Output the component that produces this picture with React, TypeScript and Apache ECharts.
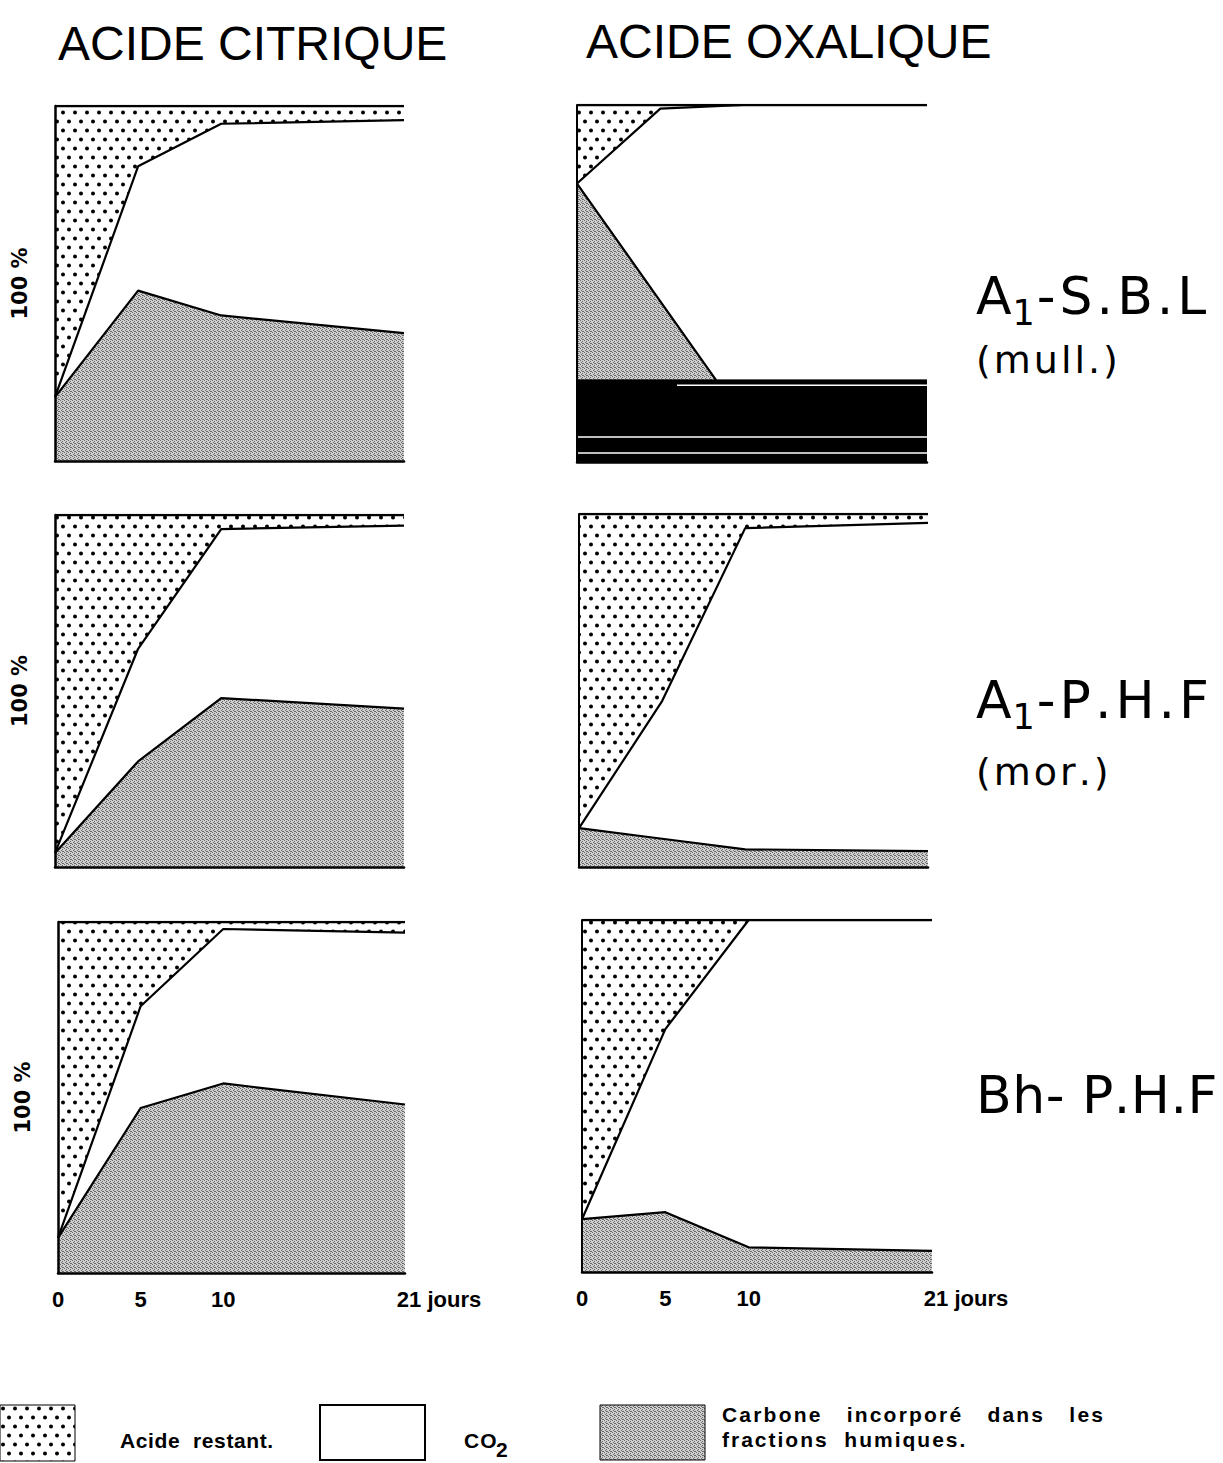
import React, { useEffect, useRef } from 'react';
import * as echarts from 'echarts';

// ---- Data (percent of added carbon) ----
const days = [0, 5, 10, 21];
const xTickValues = [0, 5, 10, 21];
const xTickLabels = ['0', '5', '10', '21 jours'];

const columnTitles = ['ACIDE CITRIQUE', 'ACIDE OXALIQUE'];
const rowSubLabels = ['(mull.)', '(mor.)', ''];

const citriqueSBL_carbone = [18, 48, 41, 36];
const citriqueSBL_co2 = [0, 35, 54, 60];
const citriqueSBL_acide = [82, 17, 5, 4];

const oxaliqueSBL_carbone = [78, 45, 12, 8];
const oxaliqueSBL_co2 = [0, 54, 88, 92];
const oxaliqueSBL_acide = [22, 1, 0, 0];

const citriquePHF_carbone = [4, 30, 48, 45];
const citriquePHF_co2 = [0, 32, 48, 52];
const citriquePHF_acide = [96, 38, 4, 3];

const oxaliquePHF_carbone = [11, 8, 5, 4.5];
const oxaliquePHF_co2 = [0, 39, 91, 93];
const oxaliquePHF_acide = [89, 53, 4, 2.5];

const citriqueBh_carbone = [10, 47, 54, 48];
const citriqueBh_co2 = [0, 29, 44, 49];
const citriqueBh_acide = [90, 24, 2, 3];

const oxaliqueBh_carbone = [15, 17, 7, 6];
const oxaliqueBh_co2 = [0, 52, 93, 94];
const oxaliqueBh_acide = [85, 31, 0, 0];

// scan artefact (black smear) at the foot of the oxalic A1-S.B.L panel
const artefactBandTop = 23;
const artefactStreaks = [21.5, 7, 2.5];

const panels = [
  { carbone: citriqueSBL_carbone, co2: citriqueSBL_co2, acide: citriqueSBL_acide },
  { carbone: oxaliqueSBL_carbone, co2: oxaliqueSBL_co2, acide: oxaliqueSBL_acide },
  { carbone: citriquePHF_carbone, co2: citriquePHF_co2, acide: citriquePHF_acide },
  { carbone: oxaliquePHF_carbone, co2: oxaliquePHF_co2, acide: oxaliquePHF_acide },
  { carbone: citriqueBh_carbone, co2: citriqueBh_co2, acide: citriqueBh_acide },
  { carbone: oxaliqueBh_carbone, co2: oxaliqueBh_co2, acide: oxaliqueBh_acide },
];

// ---- Layout ----
const grids = [
  { left: 55, top: 106, width: 349, height: 355 },
  { left: 577, top: 105, width: 350, height: 357 },
  { left: 55, top: 515, width: 349, height: 352 },
  { left: 579, top: 514, width: 349, height: 353 },
  { left: 58, top: 922, width: 347, height: 351 },
  { left: 582, top: 920, width: 350, height: 352 },
];

function makeDots(): any {
  const c = document.createElement('canvas');
  c.width = 12;
  c.height = 18;
  const ctx = c.getContext('2d')!;
  ctx.fillStyle = '#ffffff';
  ctx.fillRect(0, 0, 12, 18);
  ctx.fillStyle = '#000000';
  ctx.beginPath();
  ctx.arc(3, 4.5, 2.0, 0, Math.PI * 2);
  ctx.fill();
  ctx.beginPath();
  ctx.arc(9, 13.5, 2.0, 0, Math.PI * 2);
  ctx.fill();
  return { image: c.toDataURL(), repeat: 'repeat', imageWidth: 12, imageHeight: 18 };
}

function makeGray(): any {
  const c = document.createElement('canvas');
  c.width = 4;
  c.height = 4;
  const ctx = c.getContext('2d')!;
  ctx.fillStyle = '#cfcfcf';
  ctx.fillRect(0, 0, 4, 4);
  ctx.fillStyle = '#6a6a6a';
  [[0, 0], [2, 1], [1, 2], [3, 3], [2, 3]].forEach(([x, y]) => ctx.fillRect(x, y, 1, 1));
  return { image: c.toDataURL(), repeat: 'repeat', imageWidth: 4, imageHeight: 4 };
}

const FONT = 'Liberation Sans';
const TITLE_FONT = 'Liberation Sans';
const LABEL_FONT = 'DejaVu Sans';

let measureCtx: CanvasRenderingContext2D | null = null;
function measure(text: string, font: string): number {
  if (!measureCtx) measureCtx = document.createElement('canvas').getContext('2d');
  measureCtx!.font = font;
  return measureCtx!.measureText(text).width;
}

// pushes one text element per glyph so the lettering keeps its wide spacing
function spaced(graphic: any[], str: string, x: number, y: number, font: string, spacing: number): number {
  let cx = x;
  for (const ch of str) {
    if (ch !== ' ') {
      graphic.push({
        type: 'text',
        x: cx,
        y,
        silent: true,
        style: { text: ch, font, fill: '#000', align: 'left', verticalAlign: 'middle' },
      });
    }
    cx += measure(ch, font) + spacing;
  }
  return cx;
}

export default function App() {
  const ref = useRef<HTMLDivElement>(null);

  useEffect(() => {
    if (!ref.current) return;
    const chart = echarts.init(ref.current, undefined, { renderer: 'svg' });
    const dots = makeDots();
    const gray = makeGray();

    const xAxes: any[] = [];
    const yAxes: any[] = [];
    const series: any[] = [];

    panels.forEach((p, i) => {
      const isBottom = i >= 4;
      const isLeft = i % 2 === 0;
      xAxes.push({
        gridIndex: i,
        type: 'value',
        min: 0,
        max: 21,
        interval: 1,
        z: 10,
        axisLine: { show: true, onZero: false, lineStyle: { color: '#000', width: 2.5 } },
        axisTick: { show: false },
        splitLine: { show: false },
        axisLabel: {
          show: isBottom,
          margin: 15,
          color: '#000',
          fontFamily: FONT,
          fontWeight: 'bold',
          fontSize: 22,
          formatter: (v: number) => {
            const k = xTickValues.indexOf(v);
            if (k < 0) return '';
            if (v === 21) return '{j|' + xTickLabels[k] + '}';
            return xTickLabels[k];
          },
          rich: {
            j: { padding: [0, 0, 0, 68], fontFamily: FONT, fontWeight: 'bold', fontSize: 22, color: '#000' },
          },
        },
      });
      yAxes.push({
        gridIndex: i,
        type: 'value',
        min: 0,
        max: 100,
        z: 10,
        name: isLeft ? '100 %' : '',
        nameLocation: 'middle',
        nameRotate: 90,
        nameGap: 25,
        nameTextStyle: { color: '#000', fontFamily: 'DejaVu Sans', fontWeight: 'bold', fontSize: 21 },
        axisLine: { show: true, lineStyle: { color: '#000', width: isLeft ? 2.5 : 2 } },
        axisTick: { show: false },
        axisLabel: { show: false },
        splitLine: { show: false },
      });

      const co2Top = days.map((d, k) => [d, p.carbone[k] + p.co2[k]]);
      const acideTop = days.map((d, k) => [d, p.carbone[k] + p.co2[k] + p.acide[k]]);
      const carb = days.map((d, k) => [d, p.carbone[k]]);

      series.push({
        name: 'Acide restant',
        type: 'line',
        xAxisIndex: i,
        yAxisIndex: i,
        data: acideTop,
        symbol: 'none',
        lineStyle: { color: '#000', width: 2.5 },
        areaStyle: { color: dots, opacity: 1 },
        silent: true,
      });
      series.push({
        name: 'CO2',
        type: 'line',
        xAxisIndex: i,
        yAxisIndex: i,
        data: co2Top,
        symbol: 'none',
        lineStyle: { color: '#000', width: 2.2 },
        areaStyle: { color: '#ffffff', opacity: 1 },
        silent: true,
      });
      series.push({
        name: 'Carbone incorporé',
        type: 'line',
        xAxisIndex: i,
        yAxisIndex: i,
        data: carb,
        symbol: 'none',
        lineStyle: { color: '#000', width: 2.2 },
        areaStyle: { color: gray, opacity: 1 },
        silent: true,
      });
      if (i === 1) {
        series.push({
          name: 'artefact',
          type: 'line',
          xAxisIndex: i,
          yAxisIndex: i,
          z: 5,
          data: [[0, artefactBandTop], [21, artefactBandTop]],
          symbol: 'none',
          lineStyle: { color: '#000', width: 1 },
          areaStyle: { color: '#000', opacity: 1 },
          silent: true,
        });
        artefactStreaks.forEach((v, s) => {
          series.push({
            name: 'artefact-streak-' + s,
            type: 'line',
            xAxisIndex: i,
            yAxisIndex: i,
            z: 6,
            data: [[s === 0 ? 6 : 0, v], [21, v]],
            symbol: 'none',
            lineStyle: { color: '#ffffff', width: 1.5 },
            silent: true,
          });
        });
      }
    });

    const graphic: any[] = [];
    // row labels on the right
    const big = `52px "${LABEL_FONT}"`;
    const sub = `35px "${LABEL_FONT}"`;
    const paren = `38px "${LABEL_FONT}"`;
    const LX = 976;
    // A1-S.B.L (mull.)
    let x = spaced(graphic, 'A', LX, 296, big, 1);
    x = spaced(graphic, '1', x, 313, sub, 2);
    spaced(graphic, '-S.B.L', x, 296, big, 4);
    spaced(graphic, rowSubLabels[0], LX, 360, paren, 3);
    // A1-P.H.F (mor.)
    x = spaced(graphic, 'A', LX, 700, big, 1);
    x = spaced(graphic, '1', x, 717, sub, 2);
    spaced(graphic, '-P.H.F', x, 700, big, 4);
    spaced(graphic, rowSubLabels[1], LX, 772, paren, 3);
    // Bh- P.H.F
    spaced(graphic, 'Bh- P.H.F', LX, 1095, big, 0.5);

    // legend
    const legendFont = `bold 21px "${FONT}"`;
    graphic.push({ type: 'rect', shape: { x: 0, y: 1405, width: 75, height: 56 }, style: { fill: dots, stroke: '#000', lineWidth: 1 } });
    spaced(graphic, 'Acide  restant.', 120, 1440, legendFont, 0.6);
    graphic.push({ type: 'rect', shape: { x: 320, y: 1405, width: 105, height: 55 }, style: { fill: '#fff', stroke: '#000', lineWidth: 2 } });
    spaced(graphic, 'CO', 464, 1440, legendFont, 1);
    spaced(graphic, '2', 496, 1449, legendFont, 0);
    graphic.push({ type: 'rect', shape: { x: 600, y: 1405, width: 105, height: 55 }, style: { fill: gray, stroke: '#000', lineWidth: 1 } });
    spaced(graphic, 'Carbone   incorporé   dans   les', 722, 1414, legendFont, 2.2);
    spaced(graphic, 'fractions  humiques.', 722, 1439, legendFont, 2.0);

    chart.setOption({
      animation: false,
      backgroundColor: '#ffffff',
      title: [
        { text: columnTitles[0], left: 53, top: 14, textStyle: { fontFamily: TITLE_FONT, fontWeight: 'normal', fontSize: 48, color: '#000' } },
        { text: columnTitles[1], left: 581, top: 12, textStyle: { fontFamily: TITLE_FONT, fontWeight: 'normal', fontSize: 48, color: '#000' } },
      ],
      grid: grids.map((g) => ({ ...g })),
      xAxis: xAxes,
      yAxis: yAxes,
      series,
      graphic,
    });

    return () => chart.dispose();
  }, []);

  return <div ref={ref} style={{ position: 'absolute', left: 0, top: 0, width: 1223, height: 1463 }} />;
}
